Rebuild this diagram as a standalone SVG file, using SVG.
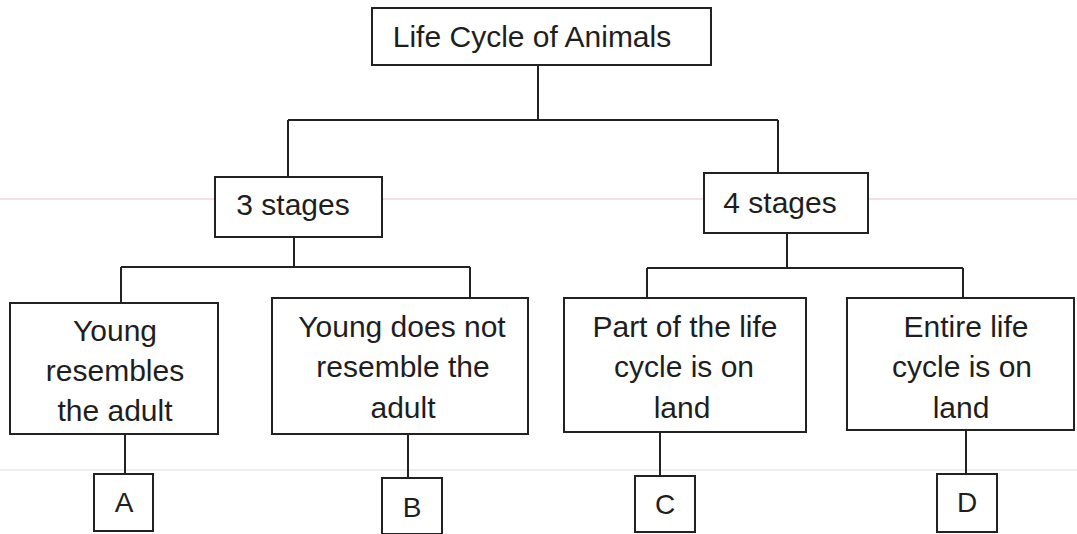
<svg xmlns="http://www.w3.org/2000/svg" width="1077" height="534" viewBox="0 0 1077 534">
  <style>
    .box { fill: #ffffff; stroke: #222222; stroke-width: 2; }
    .wire { fill: none; stroke: #222222; stroke-width: 2; }
    .label { font-family: "Liberation Sans", Arial, sans-serif; font-size: 30px; fill: #1e1e1e; text-anchor: middle; }
    .letter { font-family: "Liberation Sans", Arial, sans-serif; font-size: 28px; fill: #1e1e1e; text-anchor: middle; }
    .rule-pink { stroke: #f2d4d8; stroke-width: 1.5; }
    .rule-grey { stroke: #e8e8e8; stroke-width: 1.5; }
  </style>

  <rect x="0" y="0" width="1077" height="534" fill="#ffffff"/>

  <!-- faint ruled lines of the paper -->
  <g id="paper">
    <line class="rule-pink" x1="0" y1="199" x2="1077" y2="199"/>
    <line class="rule-grey" x1="0" y1="470" x2="1077" y2="470"/>
  </g>

  <!-- tree connectors -->
  <g id="connectors">
    <path class="wire" d="M538 65 V120 M288 120 H778 M288 120 V177 M778 120 V173"/>
    <path class="wire" d="M294 237 V267 M121 267 H470 M121 267 V303 M470 267 V298"/>
    <path class="wire" d="M787 233 V268 M647 268 H963 M647 268 V298 M963 268 V298"/>
    <path class="wire" d="M125 434 V474"/>
    <path class="wire" d="M408 434 V478"/>
    <path class="wire" d="M660 432 V476"/>
    <path class="wire" d="M966 430 V474"/>
  </g>

  <g id="root">
    <rect class="box" x="372" y="8" width="339" height="57"/>
    <text class="label" x="532" y="47">Life Cycle of Animals</text>
  </g>

  <g id="three-stages">
    <rect class="box" x="215" y="177" width="167" height="60"/>
    <text class="label" x="293" y="215">3 stages</text>
  </g>

  <g id="four-stages">
    <rect class="box" x="704" y="173" width="164" height="60"/>
    <text class="label" x="780" y="213">4 stages</text>
  </g>

  <g id="resembles">
    <rect class="box" x="10" y="303" width="208" height="131"/>
    <text class="label" x="115" y="341">Young</text>
    <text class="label" x="115" y="381">resembles</text>
    <text class="label" x="115" y="421">the adult</text>
  </g>

  <g id="not-resembles">
    <rect class="box" x="272" y="298" width="256" height="136"/>
    <text class="label" x="402" y="337">Young does not</text>
    <text class="label" x="403" y="377">resemble the</text>
    <text class="label" x="403" y="418">adult</text>
  </g>

  <g id="part-land">
    <rect class="box" x="564" y="298" width="242" height="134"/>
    <text class="label" x="685" y="337">Part of the life</text>
    <text class="label" x="684" y="377">cycle is on</text>
    <text class="label" x="682" y="418">land</text>
  </g>

  <g id="entire-land">
    <rect class="box" x="847" y="298" width="227" height="132"/>
    <text class="label" x="966" y="337">Entire life</text>
    <text class="label" x="962" y="377">cycle is on</text>
    <text class="label" x="961" y="418">land</text>
  </g>

  <g id="a">
    <rect class="box" x="94" y="474" width="59" height="57"/>
    <text class="letter" x="124" y="512">A</text>
  </g>

  <g id="b">
    <rect class="box" x="382" y="478" width="60" height="56"/>
    <text class="letter" x="412" y="517">B</text>
  </g>

  <g id="c">
    <rect class="box" x="635" y="476" width="60" height="56"/>
    <text class="letter" x="665" y="514">C</text>
  </g>

  <g id="d">
    <rect class="box" x="937" y="474" width="60" height="58"/>
    <text class="letter" x="967" y="512">D</text>
  </g>
</svg>
